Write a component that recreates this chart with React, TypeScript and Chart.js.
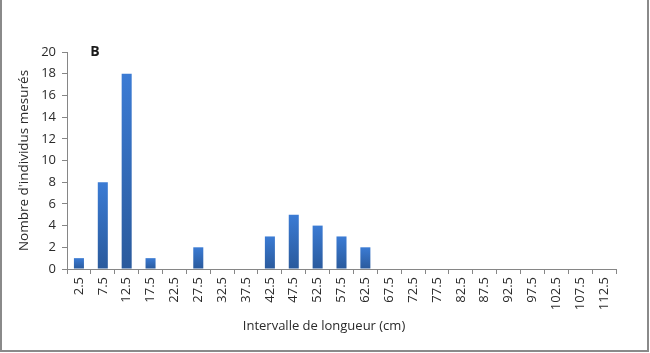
import React, { useEffect, useRef } from "react";
import { Chart, registerables } from "chart.js";

Chart.register(...registerables);

const categories: string[] = [
  "2.5", "7.5", "12.5", "17.5", "22.5", "27.5", "32.5", "37.5", "42.5", "47.5",
  "52.5", "57.5", "62.5", "67.5", "72.5", "77.5", "82.5", "87.5", "92.5", "97.5",
  "102.5", "107.5", "112.5",
];
const counts: number[] = [1, 8, 18, 1, 0, 2, 0, 0, 3, 5, 4, 3, 2, 0, 0, 0, 0, 0, 0, 0, 0, 0, 0];
const yTitle = "Nombre d'individus mesurés";
const xTitle = "Intervalle de longueur (cm)";
const panelLabel = "B";

const FONT = "'Open Sans', sans-serif";
const AXIS = "#868686";
const TEXT = "#2a2a2a";

export default function App() {
  const ref = useRef<HTMLCanvasElement | null>(null);

  useEffect(() => {
    document.body.style.margin = "0";
    const canvas = ref.current;
    if (!canvas) return;

    const labelPlugin = {
      id: "panelLabel",
      afterDraw(chart: any) {
        const { ctx, chartArea, width } = chart;
        ctx.save();
        ctx.font = `bold 14px ${FONT}`;
        ctx.fillStyle = "#1a1a1a";
        ctx.textAlign = "center";
        ctx.textBaseline = "middle";
        ctx.fillText(panelLabel, chartArea.left + 28, chartArea.top);
        ctx.font = `13px ${FONT}`;
        ctx.fillStyle = TEXT;
        ctx.fillText(xTitle, width / 2 - 1, 326);
        ctx.restore();
      },
    };

    const chart = new Chart(canvas, {
      type: "bar",
      data: {
        labels: categories,
        datasets: [
          {
            data: counts,
            barPercentage: 0.42,
            categoryPercentage: 1,
            borderWidth: 0,
            backgroundColor: (c: any) => {
              const ch = c.chart;
              const ys = ch.scales && ch.scales.y;
              if (!ys || c.type !== "data") return "#3a75c4";
              const top = ys.getPixelForValue(c.raw);
              const base = ys.getPixelForValue(0);
              if (!isFinite(top) || !isFinite(base) || Math.abs(base - top) < 1) return "#3a75c4";
              const g = ch.ctx.createLinearGradient(0, top, 0, base);
              g.addColorStop(0, "#3b7bd4");
              g.addColorStop(1, "#2a5a9c");
              return g;
            },
          },
        ],
      },
      options: {
        responsive: false,
        animation: false,
        layout: { padding: { left: 0, top: 52, right: 34, bottom: 0 } },
        plugins: {
          legend: { display: false },
          tooltip: { enabled: false },
          title: { display: false },
        },
        scales: {
          x: {
            afterFit: (s: any) => {
              s.height = 84;
            },
            grid: {
              display: true,
              drawOnChartArea: false,
              offset: true,
              color: AXIS,
              tickLength: 5,
            },
            border: { display: true, color: AXIS, width: 1 },
            ticks: {
              color: TEXT,
              font: { family: FONT, size: 13 },
              minRotation: 90,
              maxRotation: 90,
              autoSkip: false,
              padding: 3,
            },
            title: { display: false },
          },
          y: {
            min: 0,
            max: 20,
            afterFit: (s: any) => {
              s.width = 67;
            },
            grid: {
              display: true,
              drawOnChartArea: false,
              color: AXIS,
              tickLength: 5,
            },
            border: { display: true, color: AXIS, width: 1 },
            ticks: {
              stepSize: 2,
              color: TEXT,
              font: { family: FONT, size: 13 },
              padding: 6,
            },
            title: {
              display: true,
              text: yTitle,
              color: TEXT,
              font: { family: FONT, size: 13.5 },
              padding: { top: 16, bottom: 0 },
            },
          },
        },
      },
      plugins: [labelPlugin],
    });

    return () => chart.destroy();
  }, []);

  return (
    <div style={{ position: "relative", width: 650, height: 353, background: "#fff" }}>
      <canvas ref={ref} width={650} height={353} style={{ display: "block" }} />
      <div
        style={{
          position: "absolute",
          left: 0,
          top: -2,
          width: 645,
          height: 350,
          border: "2px solid #8a8a8a",
          pointerEvents: "none",
        }}
      />
    </div>
  );
}
